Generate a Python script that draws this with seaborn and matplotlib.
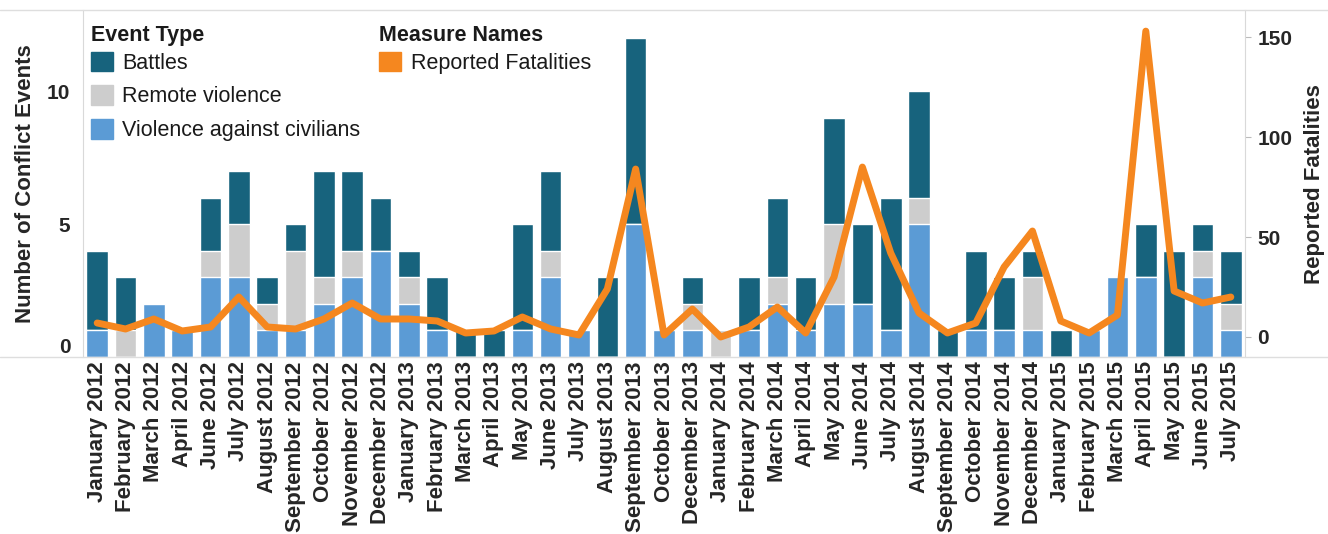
import numpy as np
import pandas as pd
import matplotlib.pyplot as plt
from matplotlib.patches import Patch
from matplotlib.lines import Line2D
import seaborn as sns

months = ["January 2012", "February 2012", "March 2012", "April 2012", "June 2012",
          "July 2012", "August 2012", "September 2012", "October 2012", "November 2012",
          "December 2012", "January 2013", "February 2013", "March 2013", "April 2013",
          "May 2013", "June 2013", "July 2013", "August 2013", "September 2013",
          "October 2013", "December 2013", "January 2014", "February 2014", "March 2014",
          "April 2014", "May 2014", "June 2014", "July 2014", "August 2014",
          "September 2014", "October 2014", "November 2014", "December 2014",
          "January 2015", "February 2015", "March 2015", "April 2015", "May 2015",
          "June 2015", "July 2015"]

battles = [3, 2, 0, 0, 2, 2, 1, 1, 4, 3, 2,
           1, 2, 1, 1, 4, 3, 0, 3, 7, 0, 1,
           0, 2, 3, 2, 4, 3, 5, 4, 1, 3, 2, 1,
           1, 0, 0, 2, 4, 1, 2]
remote = [0, 1, 0, 0, 1, 2, 1, 3, 1, 1, 0,
          1, 0, 0, 0, 0, 1, 0, 0, 0, 0, 1,
          1, 0, 1, 0, 3, 0, 0, 1, 0, 0, 0, 2,
          0, 0, 0, 0, 0, 1, 1]
civilians = [1, 0, 2, 1, 3, 3, 1, 1, 2, 3, 4,
             2, 1, 0, 0, 1, 3, 1, 0, 5, 1, 1,
             0, 1, 2, 1, 2, 2, 1, 5, 0, 1, 1, 1,
             0, 1, 3, 3, 0, 3, 1]
fatalities = [7, 4, 9, 3, 5, 20, 5, 4, 9, 17, 9,
              9, 8, 2, 3, 10, 4, 1, 24, 84, 1, 14,
              0, 5, 15, 2, 30, 85, 42, 12, 2, 7, 35, 53,
              8, 2, 11, 153, 23, 17, 20]

c_battles = "#17637d"
c_remote = "#cdcdcd"
c_civ = "#5b9bd5"
c_orange = "#f5871f"

df = pd.DataFrame({"month": months, "Battles": battles,
                   "Remote violence": remote,
                   "Violence against civilians": civilians,
                   "fatalities": fatalities})
df["civ_top"] = df["Violence against civilians"]
df["remote_top"] = df["civ_top"] + df["Remote violence"]
df["total"] = df["remote_top"] + df["Battles"]

sns.set_style("white")
plt.rcParams["font.family"] = ["Liberation Sans", "DejaVu Sans"]
plt.rcParams["text.color"] = "#1a1a1a"

fig = plt.figure(figsize=(13.28, 5.34), dpi=100)
ax = fig.add_axes([0.0625, 0.3315, 0.875, 0.6495])

bw = 0.76
sns.barplot(data=df, x="month", y="total", color=c_battles, width=bw,
            saturation=1, ax=ax, order=months)
sns.barplot(data=df, x="month", y="remote_top", color=c_remote, width=bw,
            saturation=1, ax=ax, order=months)
sns.barplot(data=df, x="month", y="civ_top", color=c_civ, width=bw,
            saturation=1, ax=ax, order=months)

ax.set_xlim(-0.5, len(months) - 0.5)
ax.set_ylim(0, 13.05)
ax.set_yticks([0, 5, 10])
ax.set_xlabel("")
ax.set_ylabel("Number of Conflict Events", fontsize=16, fontweight="bold", labelpad=8)
ax.tick_params(axis="y", length=0, pad=9, labelsize=15)
ax.tick_params(axis="x", length=0, pad=3, labelsize=16, rotation=90)
for lab in ax.get_yticklabels():
    lab.set_fontweight("bold")
ax.get_yticklabels()[0].set_va("bottom")
for lab in ax.get_xticklabels():
    lab.set_fontweight("bold")
ax.set_xticks(np.arange(len(months)) + 0.5, minor=True)
ax.tick_params(axis="x", which="minor", length=4, color="#dddddd", width=1)

for s in ["top", "right", "bottom"]:
    ax.spines[s].set_visible(False)
ax.spines["left"].set_color("#d9d9d9")

ax2 = ax.twinx()
sns.lineplot(x=np.arange(len(months)), y=fatalities, ax=ax2, color=c_orange,
             linewidth=5, solid_joinstyle="round", solid_capstyle="round")
ax2.set_ylim(-10, 163.5)
ax2.set_yticks([0, 50, 100, 150])
ax2.set_ylabel("Reported Fatalities", fontsize=16, fontweight="bold", labelpad=8)
ax2.tick_params(axis="y", length=4, color="#bbbbbb", pad=5, labelsize=15)
for lab in ax2.get_yticklabels():
    lab.set_fontweight("bold")
for s in ["top", "left", "bottom"]:
    ax2.spines[s].set_visible(False)
ax2.spines["right"].set_color("#d9d9d9")

# full-width frame lines like the Tableau view
fig.add_artist(Line2D([0, 1], [0.981, 0.981], transform=fig.transFigure,
                      color="#dedede", lw=1))
fig.add_artist(Line2D([0, 1], [0.3315, 0.3315], transform=fig.transFigure,
                      color="#dedede", lw=1))

ev_handles = [Patch(color=c_battles, label="Battles"),
              Patch(color=c_remote, label="Remote violence"),
              Patch(color=c_civ, label="Violence against civilians")]
leg1 = ax2.legend(handles=ev_handles, title="Event Type", loc="upper left",
                  bbox_to_anchor=(0.007, 0.958), frameon=False, fontsize=15.5,
                  title_fontproperties={"weight": "bold", "size": 15.5},
                  alignment="left", handlelength=1.0, handleheight=1.0,
                  handletextpad=0.45, labelspacing=0.55, borderpad=0,
                  borderaxespad=0)
leg1._legend_box.sep = 4.2
ax2.add_artist(leg1)
leg2 = ax2.legend(handles=[Patch(color=c_orange, label="Reported Fatalities")],
                  title="Measure Names", loc="upper left",
                  bbox_to_anchor=(0.255, 0.958), frameon=False, fontsize=15.5,
                  title_fontproperties={"weight": "bold", "size": 15.5},
                  alignment="left", handlelength=1.0, handleheight=1.0,
                  handletextpad=0.45, borderpad=0, borderaxespad=0)
leg2._legend_box.sep = 4.2

fig.savefig("out.png", dpi=100)
